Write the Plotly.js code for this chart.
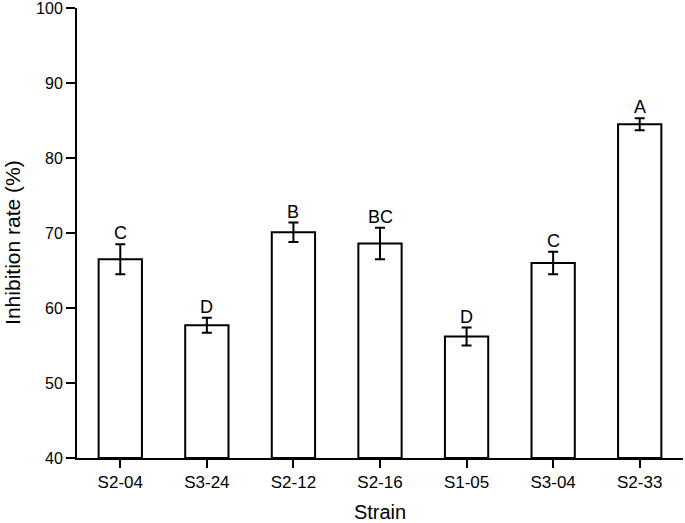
<!DOCTYPE html>
<html>
<head>
<meta charset="utf-8">
<script src="https://cdn.plot.ly/plotly-3.0.1.min.js"></script>
<style>html,body{margin:0;padding:0;background:#fff;}#chart{width:685px;height:523px;}</style>
</head>
<body>
<div id="chart"></div>
<script>
const strains = ["S2-04", "S3-24", "S2-12", "S2-16", "S1-05", "S3-04", "S2-33"];
const inhibition = [66.5, 57.7, 70.1, 68.6, 56.2, 66.0, 84.5];
const errors = [2.0, 1.0, 1.3, 2.1, 1.2, 1.5, 0.8];
const letters = ["C", "D", "B", "BC", "D", "C", "A"];
const yTicks = [40, 50, 60, 70, 80, 90, 100];

const font = "Liberation Sans, Arial, sans-serif";

const trace = {
  type: "bar",
  x: strains,
  y: inhibition.map(v => v - 40),
  base: 40,
  width: 0.5,
  marker: {color: "#ffffff", line: {color: "#000000", width: 2}},
  error_y: {type: "data", array: errors, visible: true, color: "#000000", thickness: 2, width: 5},
  hoverinfo: "skip"
};

const annotations = strains.map((s, i) => ({
  x: s, y: inhibition[i] + errors[i], xref: "x", yref: "y",
  text: letters[i], showarrow: false, yanchor: "bottom", yshift: -1,
  font: {family: font, size: 18, color: "#000"}
}));
annotations.push({
  x: 0, xref: "paper", xshift: -64, xanchor: "center",
  y: 0.478, yref: "paper", yanchor: "middle",
  text: "Inhibition rate (%)", textangle: -90, showarrow: false,
  font: {family: font, size: 21, color: "#000"}
});

const layout = {
  width: 685, height: 523,
  margin: {l: 77, r: 2, t: 8, b: 65},
  paper_bgcolor: "#fff", plot_bgcolor: "#fff",
  showlegend: false,
  font: {family: font, color: "#000"},
  xaxis: {
    range: [-0.5, 6.5], showline: true, linecolor: "#000", linewidth: 2,
    ticks: "outside", ticklen: 8, tickwidth: 2, tickcolor: "#000",
    showgrid: false, zeroline: false,
    tickfont: {family: font, size: 17, color: "#000"},
    title: {text: "Strain", font: {family: font, size: 20, color: "#000"}, standoff: 15}
  },
  yaxis: {
    range: [40, 100.02], tickvals: yTicks, ticktext: yTicks.map(String),
    ticklabeloverflow: "allow",
    showline: true, linecolor: "#000", linewidth: 2,
    ticks: "outside", ticklen: 9, tickwidth: 2, tickcolor: "#000",
    showgrid: false, zeroline: false,
    tickfont: {family: font, size: 16, color: "#000"}
  },
  annotations: annotations
};

Plotly.newPlot("chart", [trace], layout, {displayModeBar: false, staticPlot: true});
</script>
</body>
</html>
